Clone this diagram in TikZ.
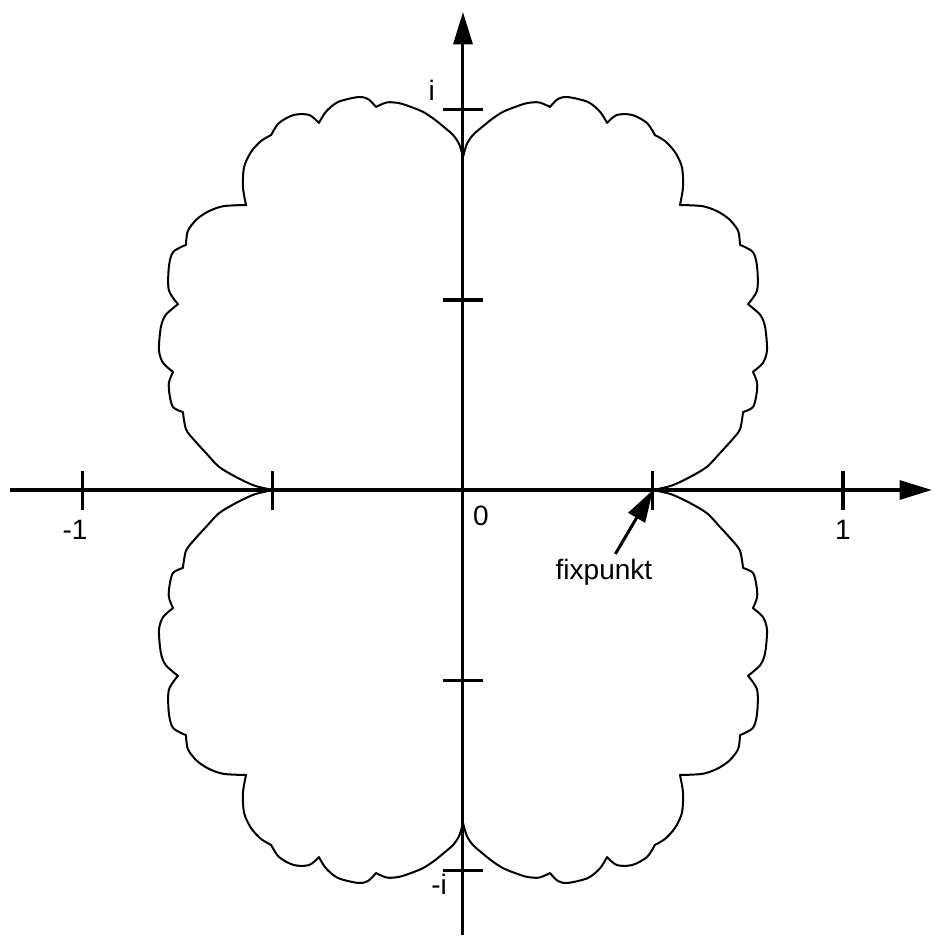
\documentclass[tikz,border=0pt]{standalone}
\usepackage{fontspec}
\setmainfont{Liberation Sans}
\usetikzlibrary{arrows.meta}

\tikzset{
  achse/.style={line width=0.9pt},
  pfeil/.style={line width=0.9pt,-{Triangle[length=3.4mm,width=2mm]}},
  rand/.style={line width=0.6pt,line join=round},
  lbl/.style={inner sep=0pt,font=\fontsize{8.4}{10}\selectfont}
}

\begin{document}
\begin{tikzpicture}[x=4cm,y=4cm]
  \useasboundingbox (-1.2184,-1.1842) rectangle (1.2421,1.2895);
  % axes
  \draw[pfeil] (-1.192,0) -- (1.234,0);
  \draw[pfeil] (0,-1.171) -- (0,1.258);
  \foreach \x in {-1,-0.5,0.5,1}
    \draw[achse] (\x,-0.053) -- (\x,0.050);
  \foreach \y in {-1,-0.5,0.5,1}
    \draw[achse] (-0.053,\y) -- (0.053,\y);
  % the set, one quarter mirrored four times
  \foreach \sx/\sy in {1/1,-1/1,1/-1,-1/-1}{
    \begin{scope}[xscale=\sx,yscale=\sy]
      \draw[rand] plot[smooth] coordinates {(0.500,0.000) (0.524,0.005) (0.553,0.013) (0.597,0.034) (0.642,0.061) (0.676,0.097) (0.708,0.132) (0.729,0.160) (0.737,0.205)}
        -- plot[smooth] coordinates {(0.737,0.205) (0.763,0.218) (0.772,0.250) (0.774,0.282) (0.763,0.311)}
        -- plot[smooth] coordinates {(0.763,0.311) (0.789,0.334) (0.800,0.368) (0.795,0.429) (0.782,0.461) (0.750,0.489)}
        -- plot[smooth] coordinates {(0.750,0.489) (0.774,0.526) (0.774,0.587) (0.763,0.626) (0.729,0.645)}
        -- plot[smooth] coordinates {(0.729,0.645) (0.724,0.682) (0.700,0.713) (0.668,0.734) (0.630,0.747) (0.571,0.750)}
        -- plot[smooth] coordinates {(0.571,0.750) (0.579,0.797) (0.576,0.850) (0.558,0.889) (0.532,0.918) (0.505,0.934)}
        -- plot[smooth] coordinates {(0.505,0.934) (0.484,0.966) (0.445,0.987) (0.405,0.987) (0.379,0.966)}
        -- plot[smooth] coordinates {(0.379,0.966) (0.361,0.995) (0.329,1.021) (0.276,1.034) (0.250,1.029) (0.229,1.008)}
        -- plot[smooth] coordinates {(0.229,1.008) (0.200,1.020) (0.168,1.018) (0.137,1.008) (0.105,0.995) (0.076,0.976) (0.050,0.955) (0.026,0.934) (0.010,0.910) (0,0.876)};
    \end{scope}
  }
  % labels
  \node[lbl] (null) at (0.047,-0.068) {0};
  \node[lbl] (eins) at (1.0,-0.105) {1};
  \node[lbl] (meins) at (-1.021,-0.105) {-1};
  \node[lbl] (ii) at (-0.082,1.053) {i};
  \node[lbl] (mi) at (-0.063,-1.037) {-i};
  \coordinate (fp) at (0.5,0);
  \node[lbl] (fix) at (0.371,-0.217) {fixpunkt};
  \draw[pfeil] ([xshift=1.2mm,yshift=0.5mm]fix.north) -- (fp);
\end{tikzpicture}
\end{document}
